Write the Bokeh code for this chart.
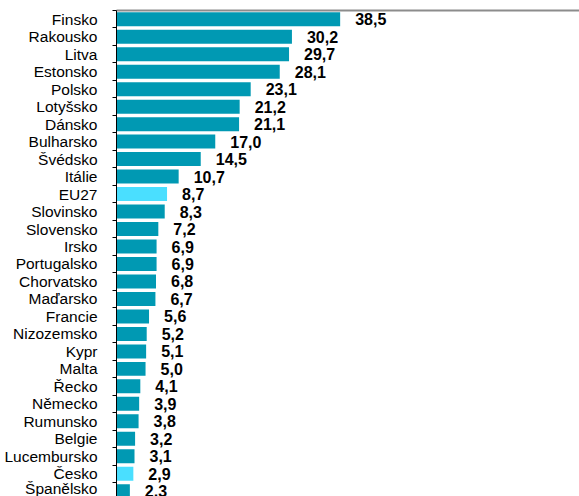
from bokeh.plotting import figure
from bokeh.models import Range1d, FixedTicker, LinearAxis, ColumnDataSource
from bokeh.core.properties import value
from bokeh.embed import file_html
from bokeh.resources import INLINE

countries = ["Finsko", "Rakousko", "Litva", "Estonsko", "Polsko", "Lotyšsko", "Dánsko",
             "Bulharsko", "Švédsko", "Itálie", "EU27", "Slovinsko", "Slovensko", "Irsko",
             "Portugalsko", "Chorvatsko", "Maďarsko", "Francie", "Nizozemsko", "Kypr",
             "Malta", "Řecko", "Německo", "Rumunsko", "Belgie", "Lucembursko", "Česko",
             "Španělsko"]
values = [38.5, 30.2, 29.7, 28.1, 23.1, 21.2, 21.1, 17.0, 14.5, 10.7, 8.7, 8.3, 7.2, 6.9,
          6.9, 6.8, 6.7, 5.6, 5.2, 5.1, 5.0, 4.1, 3.9, 3.8, 3.2, 3.1, 2.9, 2.3]
highlight = ["EU27", "Česko"]

idx = list(range(len(countries)))
colors = ["#4ADFFF" if c in highlight else "#0099B3" for c in countries]
labels = [f"{v:.1f}".replace(".", ",") for v in values]
src = ColumnDataSource(dict(y=idx, v=values, color=colors, label=labels))

p = figure(width=579, height=496, output_backend="svg", toolbar_location=None,
           x_range=Range1d(0, 79.7), y_range=Range1d(27.3, -0.5),
           min_border_left=116, min_border_right=0, min_border_top=10, min_border_bottom=0,
           x_axis_location=None, y_axis_location="left")
p.grid.visible = False
p.outline_line_color = None
p.background_fill_color = "white"
p.border_fill_color = "white"

top = LinearAxis(ticker=FixedTicker(ticks=[]), major_label_text_font_size="0px",
                 major_tick_out=0, major_tick_in=0, minor_tick_out=0, minor_tick_in=0,
                 major_label_standoff=0, axis_line_color="#8c8c8c", axis_line_width=2)
p.add_layout(top, "above")

ya = p.yaxis[0]
ya.ticker = FixedTicker(ticks=idx, minor_ticks=[i - 0.5 for i in idx] + [idx[-1] + 0.5])
ya.major_label_overrides = {i: c for i, c in enumerate(countries)}
ya.major_tick_line_color = None
ya.major_tick_out = 0
ya.major_tick_in = 0
ya.minor_tick_out = 4
ya.minor_tick_in = 0
ya.minor_tick_line_color = "black"
ya.major_label_standoff = 15
ya.major_label_text_font = "Liberation Sans"
ya.major_label_text_font_size = "15.5px"
ya.major_label_text_color = "black"
ya.axis_line_color = "black"

p.hbar(y="y", right="v", left=0, height=0.8, fill_color="color", line_color=None, source=src)
p.text(x="v", y="y", text="label", x_offset=15, text_align="left", text_baseline="middle",
       text_font=value("Liberation Sans"), text_font_style="bold", text_font_size="16px",
       text_color="black", source=src)

open("out.html", "w").write(file_html(p, INLINE))
